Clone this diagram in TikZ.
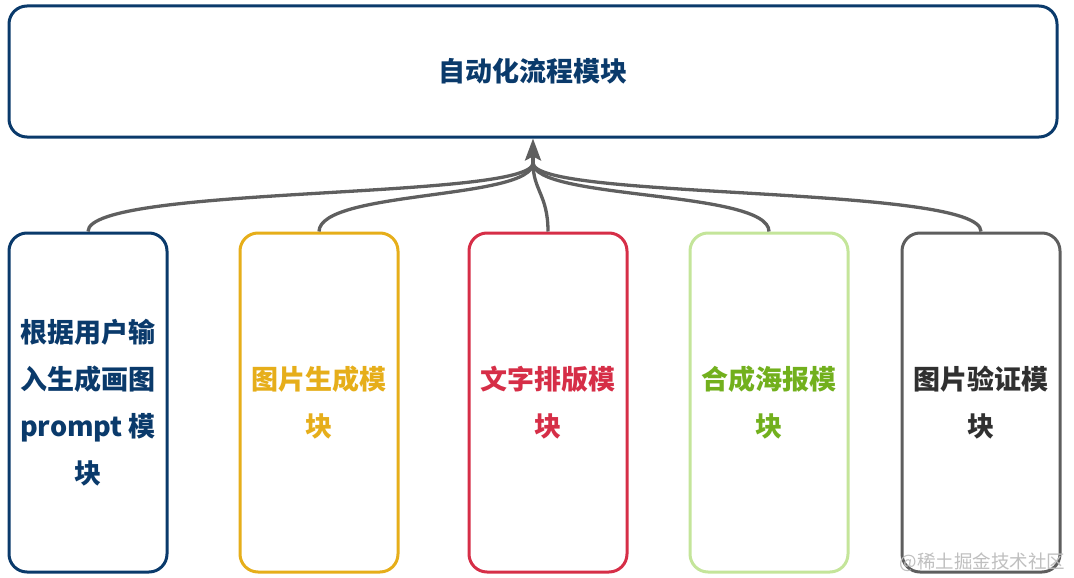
\documentclass[tikz,border=0pt]{standalone}
\usepackage{fontspec}
\setmainfont{Noto Sans CJK SC}
\usetikzlibrary{arrows.meta}
\definecolor{navy}{HTML}{0A3A6B}
\definecolor{gold}{HTML}{E6AE1A}
\definecolor{crim}{HTML}{D62E47}
\definecolor{leaf}{HTML}{72B01D}
\definecolor{leafline}{HTML}{C4E59A}
\definecolor{greyline}{HTML}{5E5E5E}
\definecolor{greytext}{HTML}{303030}
\definecolor{conn}{HTML}{5F5F5F}
\tikzset{
  modbox/.style={draw, line width=3pt, rounded corners=18pt, fill=white,
    minimum width=158pt, minimum height=339pt, align=center,
    font=\bfseries\fontsize{27}{47}\selectfont, inner sep=0pt},
  topbox/.style={draw=navy, text=navy, line width=3pt, rounded corners=18pt,
    minimum width=1048pt, minimum height=131pt, align=center,
    font=\bfseries\fontsize{27}{32}\selectfont},
  link/.style={draw=conn, line width=3.3pt},
  tipline/.style={draw=conn, line width=3.3pt, -{Stealth[length=22pt,width=16pt,inset=4pt]}},
  wmark/.style={text=black!25, font=\fontsize{18.5}{22}\selectfont, anchor=east}
}
\begin{document}
\begin{tikzpicture}[x=1pt,y=-1pt]
\useasboundingbox (0,0) rectangle (1074,578);
\node[topbox] (top) at (533,71.5) {自动化流程模块};
\node[modbox, draw=navy, text=navy] (b1) at (88,402.5) {根据用户输\\入生成画图\\prompt 模\\块};
\node[modbox, draw=gold, text=gold] (b2) at (319,402.5) {图片生成模\\块};
\node[modbox, draw=crim, text=crim] (b3) at (548,402.5) {文字排版模\\块};
\node[modbox, draw=leafline, text=leaf] (b4) at (769,402.5) {合成海报模\\块};
\node[modbox, draw=greyline, text=greytext] (b5) at (981,402.5) {图片验证模\\块};
\coordinate (join) at (533,163);
\draw[link] (b1.north) .. controls (88,185) and (533,200) .. (join);
\draw[link] (b2.north) .. controls (320,190) and (533,200) .. (join);
\draw[link] (b3.north) .. controls (548,195) and (533,190) .. (join);
\draw[link] (b4.north) .. controls (769,190) and (533,200) .. (join);
\draw[link] (b5.north) .. controls (981,185) and (533,200) .. (join);
\draw[tipline] (join) -- (top.south);
\node[wmark] (wm) at (1069,562) {@稀土掘金技术社区};
\end{tikzpicture}
\end{document}
